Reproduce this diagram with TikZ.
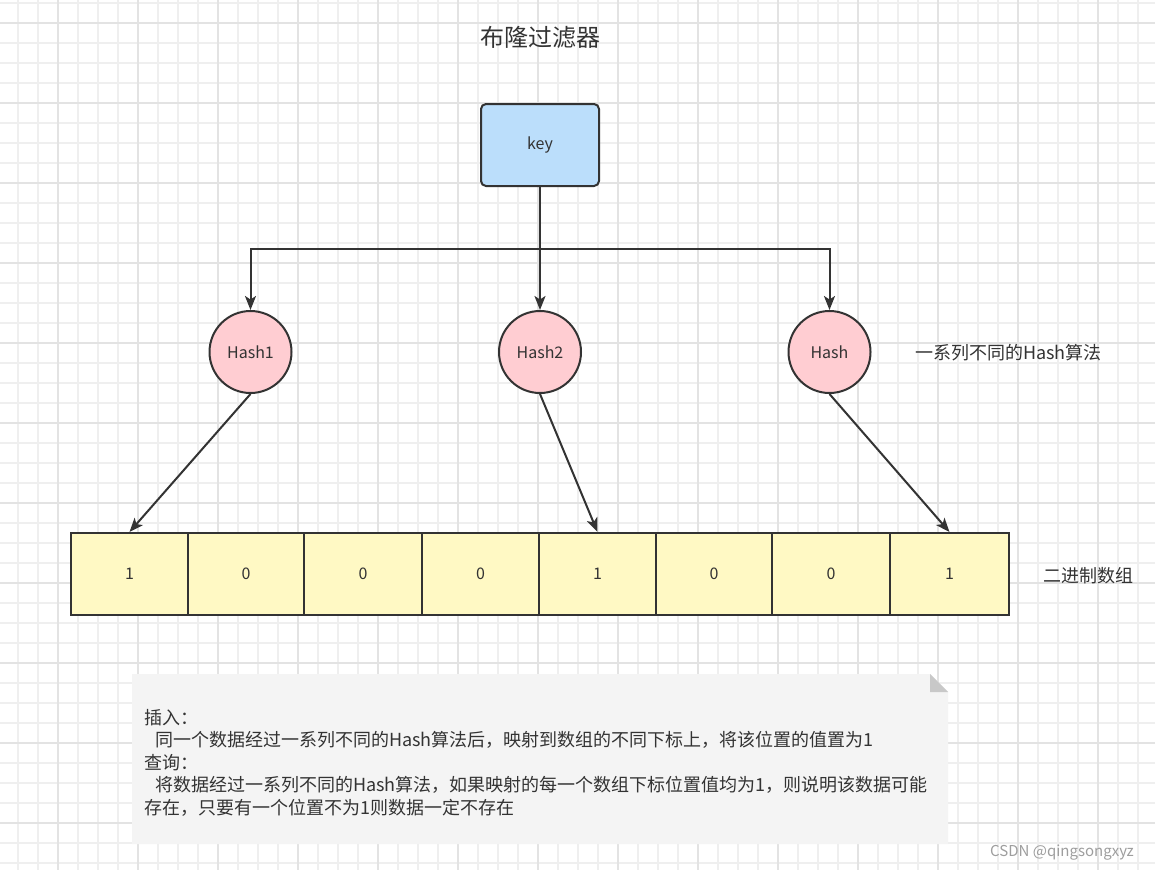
\documentclass[tikz,border=0pt]{standalone}
\usepackage{fontspec}
\setmainfont{Noto Sans CJK SC}
\usetikzlibrary{arrows.meta}
\definecolor{ink}{HTML}{333333}
\definecolor{keyblue}{HTML}{BBDEFB}
\definecolor{hashpink}{HTML}{FFCDD2}
\definecolor{cellyellow}{HTML}{FFF9C4}
\definecolor{notefill}{HTML}{F4F4F4}
\definecolor{foldgray}{HTML}{C8C8C8}
\definecolor{gridminor}{HTML}{EFEFEF}
\definecolor{gridmajor}{HTML}{E3E3E3}
\definecolor{wmgray}{HTML}{9E9E9E}
\begin{document}
\begin{tikzpicture}[x=1pt,y=-1pt,
  keybox/.style={draw=ink, line width=2pt, fill=keyblue, rounded corners=5pt,
    minimum width=118pt, minimum height=82pt, inner sep=0pt, text=ink,
    font=\fontsize{16}{19}\selectfont},
  hashc/.style={circle, draw=ink, line width=2pt, fill=hashpink,
    minimum size=82pt, inner sep=0pt, text=ink, font=\fontsize{16}{19}\selectfont},
  cell/.style={draw=ink, line width=2pt, fill=cellyellow, minimum height=82pt,
    inner sep=0pt, text=ink, font=\fontsize{16}{19}\selectfont},
  arr/.style={draw=ink, line width=2pt, -{Stealth[length=14pt,width=11pt,inset=3.5pt]}},
  lbl/.style={anchor=west, inner sep=0pt, text=ink, font=\fontsize{18}{22}\selectfont}
]
\useasboundingbox (0,0) rectangle (1155,870);
\fill[white] (0,0) rectangle (1155,870);
% grid
\foreach \gx in {17.5,37.5,...,1155} \draw[gridminor, line width=2pt] (\gx,0) -- (\gx,870);
\foreach \gy in {2.5,22.5,...,870} \draw[gridminor, line width=2pt] (0,\gy) -- (1155,\gy);
\foreach \gx in {57.5,137.5,...,1155} \draw[gridmajor, line width=2pt] (\gx,0) -- (\gx,870);
\foreach \gy in {22.5,102.5,...,870} \draw[gridmajor, line width=2pt] (0,\gy) -- (1155,\gy);

% title
\node[text=ink, inner sep=0pt, font=\fontsize{24}{28}\selectfont] (title) at (540,37) {布隆过滤器};

% key
\node[keybox] (key) at (540,145) {key};

% hash circles
\node[hashc] (h1) at (250.5,352) {Hash1};
\node[hashc] (h2) at (540,352) {Hash2};
\node[hashc] (h3) at (829.5,352) {Hash};
\node[lbl] (hashlbl) at (915,353) {一系列不同的Hash算法};

% connectors key -> hashes
\coordinate (junc) at (540,249);
\draw[draw=ink, line width=2pt] (key.south) -- (junc);
\draw[arr] (junc) -| (h1.north);
\draw[arr] (junc) -| (h3.north);
\draw[arr] (junc) -- (h2.north);

% array cells
\node[cell, minimum width=117pt] (c1) at (129.5,574) {1};
\node[cell, minimum width=116pt] (c2) at (246,574) {0};
\node[cell, minimum width=118pt] (c3) at (363,574) {0};
\node[cell, minimum width=117pt] (c4) at (480.5,574) {0};
\node[cell, minimum width=117pt] (c5) at (597.5,574) {1};
\node[cell, minimum width=116pt] (c6) at (714,574) {0};
\node[cell, minimum width=118pt] (c7) at (831,574) {0};
\node[cell, minimum width=119pt] (c8) at (949.5,574) {1};
\node[lbl] (arrlbl) at (1043,576) {二进制数组};

% hashes -> cells
\draw[arr] (h1.south) -- (c1.north);
\draw[arr] (h2.south) -- (c5.north);
\draw[arr] (h3.south) -- (c8.north);

% note
\fill[notefill] (132,674) -- (930,674) -- (948,692) -- (948,844) -- (132,844) -- cycle;
\fill[foldgray] (930,674) -- (930,692) -- (948,692) -- cycle;
\node[anchor=base west, align=left, inner sep=0pt, text=ink,
  font=\fontsize{18}{22.5}\selectfont] (note) at (144,814)
  {插入：\\
   \hspace*{11pt}同一个数据经过一系列不同的Hash算法后，映射到数组的不同下标上，将该位置的值置为1\\
   查询：\\
   \hspace*{11pt}将数据经过一系列不同的Hash算法，如果映射的每一个数组下标位置值均为1，则说明该数据可能\\
   存在，只要有一个位置不为1则数据一定不存在};

% watermark
\node[anchor=base west, inner sep=0pt, text=wmgray, font=\fontsize{15}{18}\selectfont] (wm) at (990,856) {CSDN @qingsongxyz};
\end{tikzpicture}
\end{document}
